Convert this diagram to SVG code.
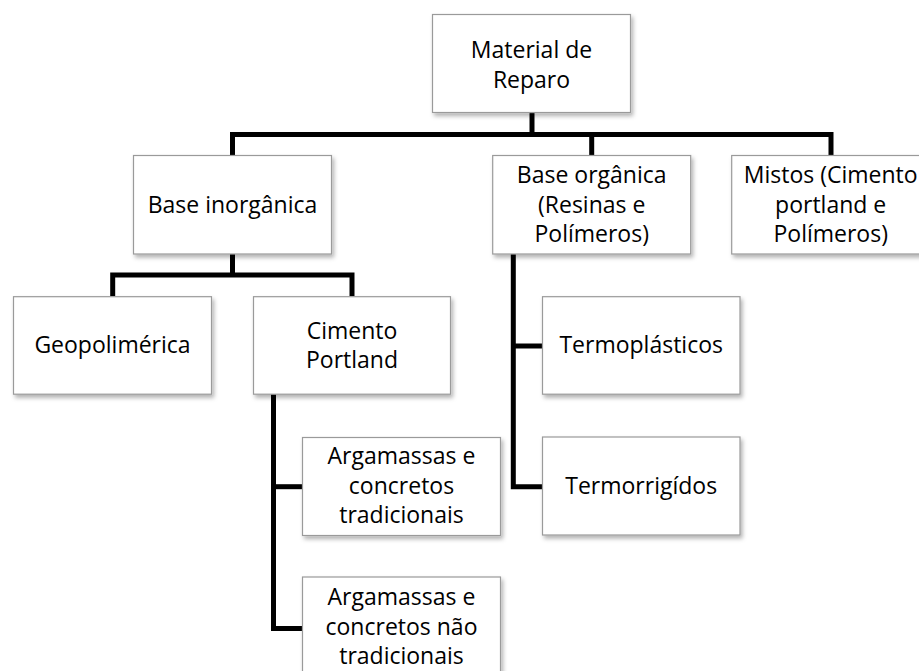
<svg xmlns="http://www.w3.org/2000/svg" width="919" height="671" viewBox="0 0 919 671">
<defs>
<filter id="sh" x="-10%" y="-10%" width="130%" height="130%">
<feDropShadow dx="2" dy="3" stdDeviation="2" flood-color="#000" flood-opacity="0.3"/>
</filter>
<style>
.box{fill:#fff;stroke:#9a9a9a;stroke-width:1.2;filter:url(#sh)}
.t{font-family:"Open Sans","Liberation Sans",sans-serif;font-size:23px;fill:#000;text-anchor:middle}
.c{fill:none;stroke:#000;stroke-width:5;stroke-linejoin:miter}
</style>
</defs>
<rect width="919" height="671" fill="#fff"/>
<g id="connectors">
<path class="c" d="M532 112 V134.5"/>
<path class="c" d="M232.5 155 V134.5 H831 V155"/>
<path class="c" d="M591.7 134.5 V155"/>
<path class="c" d="M232.5 254 V275"/>
<path class="c" d="M112.7 296 V275 H352 V296"/>
<path class="c" d="M273.5 394 V628.5 H302"/>
<path class="c" d="M273.5 486.7 H302"/>
<path class="c" d="M513.3 254 V486.7 H542"/>
<path class="c" d="M513.3 346 H542"/>
</g>
<g id="root">
<rect class="box" x="432.5" y="14.5" width="198" height="98"/>
<text class="t" x="531.5" y="58">Material de</text>
<text class="t" x="531.5" y="87.5">Reparo</text>
</g>
<g id="base-inorganica">
<rect class="box" x="133.5" y="155.5" width="198" height="98.5"/>
<text class="t" x="232.5" y="212.5">Base inorgânica</text>
</g>
<g id="base-organica">
<rect class="box" x="492.7" y="155.5" width="198" height="98.5"/>
<text class="t" x="591.7" y="183">Base orgânica</text>
<text class="t" x="591.7" y="212.5">(Resinas e</text>
<text class="t" x="591.7" y="242">Polímeros)</text>
</g>
<g id="mistos">
<rect class="box" x="731.7" y="155.5" width="198" height="98.5"/>
<text class="t" x="830.7" y="183">Mistos (Cimento</text>
<text class="t" x="830.7" y="212.5">portland e</text>
<text class="t" x="830.7" y="242">Polímeros)</text>
</g>
<g id="geopolimerica">
<rect class="box" x="13.5" y="296.7" width="198" height="97.5"/>
<text class="t" x="112.5" y="352.5">Geopolimérica</text>
</g>
<g id="cimento-portland">
<rect class="box" x="253.5" y="296.7" width="197" height="97.5"/>
<text class="t" x="352" y="338.5">Cimento</text>
<text class="t" x="352" y="367.5">Portland</text>
</g>
<g id="argamassas-tradicionais">
<rect class="box" x="302.5" y="437.5" width="198" height="98"/>
<text class="t" x="401.5" y="464">Argamassas e</text>
<text class="t" x="401.5" y="493.5">concretos</text>
<text class="t" x="401.5" y="523">tradicionais</text>
</g>
<g id="argamassas-nao-tradicionais">
<rect class="box" x="302.5" y="577" width="198" height="98"/>
<text class="t" x="401.5" y="605">Argamassas e</text>
<text class="t" x="401.5" y="634.5">concretos não</text>
<text class="t" x="401.5" y="664">tradicionais</text>
</g>
<g id="termoplasticos">
<rect class="box" x="542.5" y="296.7" width="197.5" height="97.5"/>
<text class="t" x="641.2" y="352.5">Termoplásticos</text>
</g>
<g id="termorrigidos">
<rect class="box" x="542.5" y="437" width="197.5" height="98"/>
<text class="t" x="641.2" y="493.5">Termorrigídos</text>
</g>
</svg>
